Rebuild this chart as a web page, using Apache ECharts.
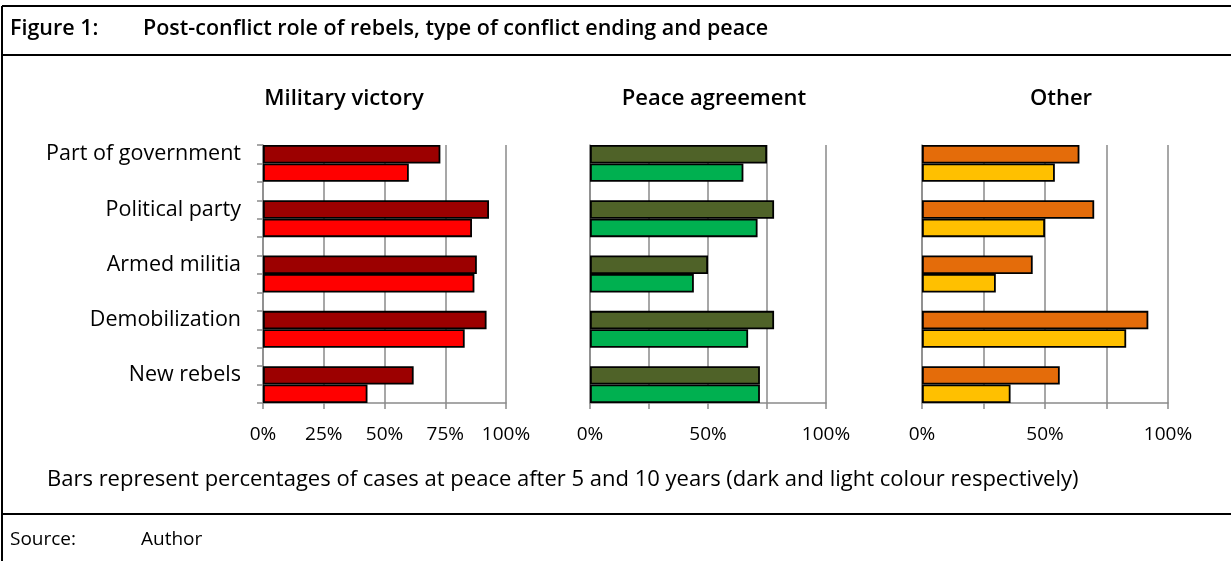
<!DOCTYPE html>
<html><head><meta charset="utf-8">
<script src="https://cdn.jsdelivr.net/npm/echarts@6/dist/echarts.min.js"></script>
<style>html,body{margin:0;padding:0;background:#fff}#c{width:1231px;height:561px}</style>
</head><body><div id="c"></div>
<script>
// ---- data ----
const categories = ['Part of government', 'Political party', 'Armed militia', 'Demobilization', 'New rebels'];
const panelTitles = ['Military victory', 'Peace agreement', 'Other'];
// % of cases at peace after 5 years (dark) and 10 years (light)
const militaryVictory5 = [73, 93, 88, 92, 62];
const militaryVictory10 = [60, 86, 87, 83, 43];
const peaceAgreement5 = [75, 78, 50, 78, 72];
const peaceAgreement10 = [65, 71, 44, 67, 72];
const other5 = [64, 70, 45, 92, 56];
const other10 = [54, 50, 30, 83, 36];
const tickLabels1 = ['0%', '25%', '50%', '75%', '100%'];
const tickLabels23 = ['0%', '50%', '100%'];
const titleText = 'Figure 1:';
const titleMain = 'Post-conflict role of rebels, type of conflict ending and peace';
const footnote = 'Bars represent percentages of cases at peace after 5 and 10 years (dark and light colour respectively)';
const sourceLabel = 'Source:';
const sourceText = 'Author';

// ---- styling ----
const FONT = '"Open Sans"';
const colors = [['#9c0000', '#ff0000'], ['#4f6228', '#00b050'], ['#e46c0a', '#ffc000']];
const gridGray = '#8a8a8a';
const grids = [
  { left: 263, width: 243 },
  { left: 590, width: 236 },
  { left: 922, width: 246 }
];
const GTOP = 145, GH = 258;

// slots: each category -> [dark, light, gap]; last gap dropped
const nSlots = categories.length * 3 - 1;
const slots = [];
for (let i = 0; i < nSlots; i++) slots.push('s' + i);
function toSlots(vals, offset) {
  const out = new Array(nSlots).fill('-');
  vals.forEach((v, i) => { out[i * 3 + offset] = v; });
  return out;
}
const panelData = [
  [militaryVictory5, militaryVictory10, tickLabels1],
  [peaceAgreement5, peaceAgreement10, tickLabels23],
  [other5, other10, tickLabels23]
];

const option = {
  animation: false,
  backgroundColor: '#fff',
  textStyle: { fontFamily: FONT },
  grid: grids.map(g => ({ left: g.left, width: g.width, top: GTOP, height: GH, containLabel: false })),
  xAxis: panelData.map((p, k) => ({
    type: 'value', gridIndex: k, min: 0, max: 100, interval: 25,
    axisLine: { show: true, lineStyle: { color: gridGray, width: 1.5 } },
    axisTick: { show: true, length: 6, lineStyle: { color: gridGray, width: 1.5 } },
    splitLine: { show: true, lineStyle: { color: gridGray, width: 1.5 } },
    axisLabel: {
      color: '#000', fontSize: 19, fontFamily: FONT, margin: 22,
      formatter: v => { const s = v + '%'; return p[2].indexOf(s) >= 0 ? s : ''; }
    }
  })),
  yAxis: panelData.map((p, k) => ({
    type: 'category', gridIndex: k, data: slots, inverse: true,
    axisLine: { show: true, lineStyle: { color: gridGray, width: 1.5 } },
    axisTick: { show: k === 0, interval: 0, length: 6, lineStyle: { color: gridGray, width: 1.5 } },
    splitLine: { show: false },
    axisLabel: {
      show: k === 0, interval: 0, color: '#000', fontSize: 21.5, fontFamily: FONT, margin: 22,
      formatter: (v, i) => (i % 3 === 0 ? categories[i / 3] : '')
    }
  })),
  series: [],
  graphic: []
};

panelData.forEach((p, k) => {
  [0, 1].forEach(j => {
    option.series.push({
      type: 'bar', xAxisIndex: k, yAxisIndex: k,
      name: panelTitles[k] + (j === 0 ? ' 5y' : ' 10y'),
      data: toSlots(p[j], j),
      barGap: '-100%', barCategoryGap: '0%',
      itemStyle: { color: colors[k][j], borderColor: '#000', borderWidth: 1.8 },
      z: 3
    });
  });
});

const titleCenters = [344, 714, 1061];
const G = option.graphic;
// frame lines
const lineStyle = { stroke: '#000', lineWidth: 2 };
G.push({ type: 'line', shape: { x1: 2, y1: 6, x2: 1231, y2: 6 }, style: lineStyle });
G.push({ type: 'line', shape: { x1: 2, y1: 6, x2: 2, y2: 561 }, style: lineStyle });
G.push({ type: 'line', shape: { x1: 2, y1: 55, x2: 1231, y2: 55 }, style: lineStyle });
G.push({ type: 'line', shape: { x1: 2, y1: 514, x2: 1231, y2: 514 }, style: lineStyle });
// texts
G.push({ type: 'text', x: 10, y: 29, style: { text: titleText, font: '600 21.5px ' + FONT, fill: '#000', verticalAlign: 'middle' } });
G.push({ type: 'text', x: 143, y: 29, style: { text: titleMain, font: '600 21.5px ' + FONT, fill: '#000', verticalAlign: 'middle' } });
panelTitles.forEach((t, k) => {
  G.push({ type: 'text', x: titleCenters[k], y: 99, style: { text: t, font: '600 22px ' + FONT, fill: '#000', align: 'center', verticalAlign: 'middle' } });
});
G.push({ type: 'text', x: 47, y: 480, style: { text: footnote, font: '22px ' + FONT, fill: '#000', verticalAlign: 'middle' } });
G.push({ type: 'text', x: 10, y: 540, style: { text: sourceLabel, font: '19px ' + FONT, fill: '#000', verticalAlign: 'middle' } });
G.push({ type: 'text', x: 141, y: 540, style: { text: sourceText, font: '19px ' + FONT, fill: '#000', verticalAlign: 'middle' } });

const chart = echarts.init(document.getElementById('c'), null, { renderer: 'canvas' });
chart.setOption(option);
</script>
</body></html>
